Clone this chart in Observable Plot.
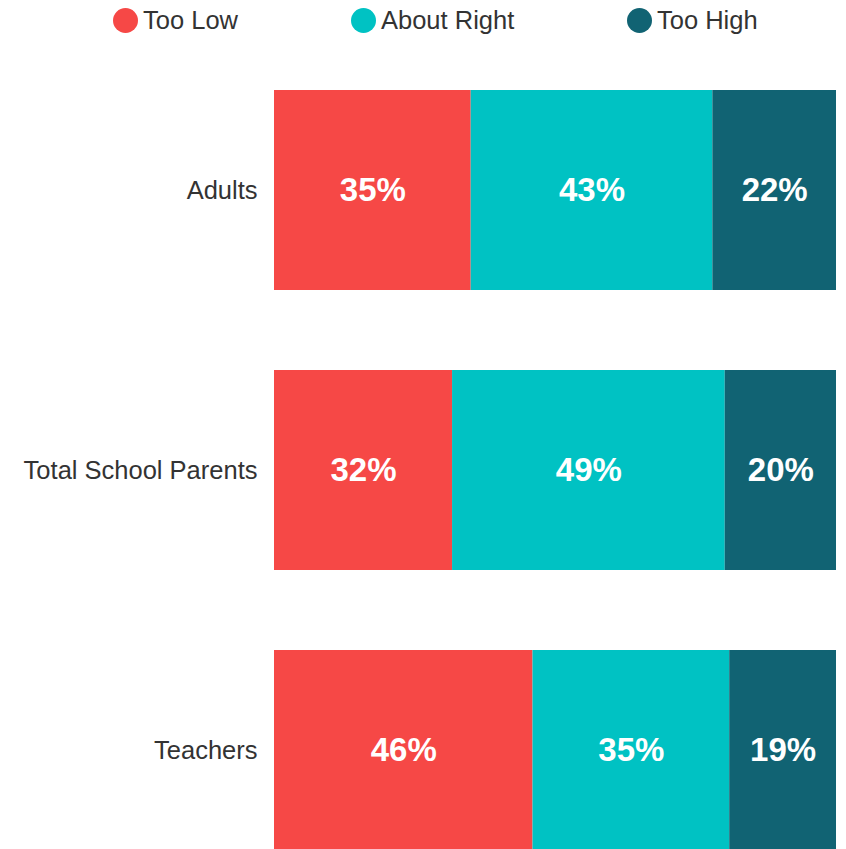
<!DOCTYPE html>
<html>
<head>
<meta charset="utf-8">
<script src="https://cdn.jsdelivr.net/npm/d3@7"></script>
<script src="https://cdn.jsdelivr.net/npm/@observablehq/plot@0.6"></script>
<style>
  html, body { margin: 0; padding: 0; background: #fff; overflow: hidden; }
  #legend { position: relative; height: 45px; font-family: "Liberation Sans", Arial, sans-serif; font-size: 25.5px; color: #333; }
  .item { position: absolute; top: 6px; display: flex; align-items: center; height: 28px; }
  .dot { width: 25px; height: 25px; border-radius: 50%; margin-right: 5px; }
</style>
</head>
<body>
<div id="legend"></div>
<div id="chart"></div>
<script>
const groups = ["Adults", "Total School Parents", "Teachers"];
const responses = ["Too Low", "About Right", "Too High"];
const colors = ["#F64846", "#00C2C3", "#116373"];
const tooLow = [35, 32, 46];
const aboutRight = [43, 49, 35];
const tooHigh = [22, 20, 19];

const series = [tooLow, aboutRight, tooHigh];
const data = [];
groups.forEach((g, i) => {
  responses.forEach((r, j) => data.push({group: g, response: r, value: series[j][i]}));
});

// legend
const legendX = [113, 351, 627];
const legend = document.getElementById("legend");
responses.forEach((r, j) => {
  const it = document.createElement("div");
  it.className = "item";
  it.style.left = legendX[j] + "px";
  it.innerHTML = `<span class="dot" style="background:${colors[j]}"></span><span>${r}</span>`;
  legend.appendChild(it);
});

const stackOpts = {x: "value", y: "group", z: "response", order: responses, offset: "normalize"};

const chart = Plot.plot({
  width: 846,
  height: 806,
  marginTop: 45,
  marginBottom: 0,
  marginLeft: 274,
  marginRight: 10,
  style: {fontFamily: "'Liberation Sans', Arial, sans-serif", background: "#fff"},
  x: {axis: null},
  y: {domain: groups, paddingInner: 0.2857, paddingOuter: 0, label: null},
  color: {domain: responses, range: colors},
  marks: [
    Plot.barX(data, Plot.stackX({...stackOpts, fill: "response"})),
    Plot.text(data, Plot.stackX({...stackOpts, text: d => d.value + "%", fill: "white", fontSize: 33, fontWeight: "bold"})),
    Plot.axisY({tickSize: 0, tickPadding: 17, fontSize: 25.5, label: null, color: "#333"})
  ]
});
document.getElementById("chart").appendChild(chart);
</script>
</body>
</html>
